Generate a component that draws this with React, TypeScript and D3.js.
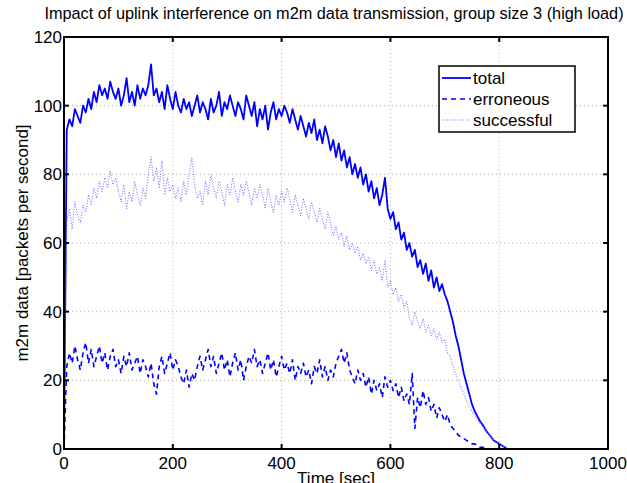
import React from "react";
import * as d3 from "d3";

const time: number[] = d3.range(0, 825, 5).concat([1000]);

const total: number[] = [
  0, 93, 96, 94, 99, 97, 95, 100, 98, 102, 99, 104, 101, 106, 103, 105, 102, 107, 104, 102,
  105, 100, 103, 108, 101, 104, 100, 106, 102, 105, 103, 106, 112, 103, 105, 101, 104, 99, 106, 102,
  99, 104, 100, 98, 102, 99, 101, 97, 100, 103, 98, 101, 99, 96, 102, 98, 100, 104, 97, 101,
  99, 103, 100, 97, 101, 99, 96, 103, 100, 97, 101, 94, 99, 96, 100, 93, 98, 101, 96, 99,
  97, 100, 98, 95, 99, 96, 93, 97, 94, 91, 95, 92, 96, 90, 93, 89, 94, 91, 87, 90,
  85, 89, 84, 87, 82, 85, 80, 83, 79, 82, 77, 80, 75, 78, 73, 76, 71, 74, 79, 70,
  67, 69, 64, 66, 61, 63, 58, 60, 56, 58, 53, 55, 51, 54, 49, 52, 47, 50, 46, 48,
  45, 43, 40, 37, 33, 30, 26, 22, 19, 16, 13, 11, 9.5, 8, 7, 5.5, 4.5, 3.5, 2.5, 2,
  1.5, 1, 0.5, 0, 0, 0,
];

const erroneous: number[] = [
  0, 24, 28, 25, 30, 26, 23, 28, 31, 25, 29, 24, 27, 30, 25, 28, 23, 27, 29, 24,
  26, 22, 27, 24, 28, 23, 25, 27, 22, 26, 24, 21, 25, 19, 16, 24, 27, 22, 25, 28,
  23, 26, 24, 21, 19, 23, 18, 22, 20, 24, 27, 23, 26, 29, 24, 27, 22, 25, 28, 23,
  26, 21, 25, 28, 23, 26, 20, 24, 27, 25, 29, 24, 26, 22, 25, 28, 23, 26, 21, 24,
  27, 23, 25, 22, 26, 20, 24, 22, 25, 21, 23, 19, 24, 22, 26, 21, 24, 20, 23, 21,
  25, 27, 29, 25, 28, 23, 21, 19, 23, 20, 22, 18, 21, 16, 20, 17, 19, 15, 21, 18,
  20, 17, 19, 15, 18, 14, 16, 13, 22, 6, 15, 12, 17, 13, 15, 11, 13, 9, 12, 10,
  8, 10, 7, 6, 5, 4, 3.5, 3, 2.5, 2, 1.5, 1.5, 1, 0.5, 0.5, 0, 0, 0, 0, 0,
  0, 0, 0, 0, 0, 0,
];

const successful: number[] = [
  0, 66, 70, 64, 72, 68, 66, 71, 69, 74, 71, 76, 73, 78, 75, 79, 76, 81, 77, 79,
  75, 72, 77, 70, 75, 72, 78, 74, 71, 76, 73, 80, 85, 78, 82, 76, 84, 74, 79, 75,
  77, 73, 76, 72, 78, 74, 80, 85, 77, 73, 75, 71, 78, 74, 80, 76, 73, 78, 75, 71,
  77, 74, 79, 75, 72, 77, 74, 78, 75, 71, 76, 73, 77, 74, 70, 76, 72, 69, 74, 71,
  75, 72, 76, 73, 69, 74, 71, 68, 73, 70, 67, 72, 69, 66, 70, 67, 64, 69, 66, 62,
  65, 61, 63, 59, 62, 58, 60, 57, 59, 55, 57, 54, 56, 52, 55, 51, 53, 49, 55, 47,
  49, 45, 47, 43, 45, 41, 43, 38, 36, 40, 37, 35, 38, 34, 36, 33, 35, 32, 34, 31,
  32, 28, 27, 24, 22, 20, 18, 16, 14, 12.5, 11, 9.5, 8.5, 7.5, 6.5, 5.5, 4.5, 3.5, 2.5, 2,
  1.5, 1, 0.5, 0, 0, 0,
];

const xTicks: number[] = [0, 200, 400, 600, 800, 1000];
const yTicks: number[] = [0, 20, 40, 60, 80, 100, 120];

const titleText = "Impact of uplink interference on m2m data transmission, group size 3 (high load)";
const xLabel = "Time [sec]";
const yLabel = "m2m data [packets per second]";
const legendLabels: string[] = ["total", "erroneous", "successful"];

const W = 627;
const H = 483;
const L = 64, R = 608, T = 37, B = 449;
const FONT = "'Liberation Sans', Arial, Helvetica, sans-serif";

export default function App() {
  const x = d3.scaleLinear().domain([0, 1000]).range([L, R]);
  const y = d3.scaleLinear().domain([0, 120]).range([B, T]);
  const line = (vals: number[]) =>
    d3.line<number>().x((_, i) => x(time[i])).y((d) => y(d))(vals) || "";

  const styles = [
    { stroke: "#0000ff", width: 1.8, dash: "none" },
    { stroke: "#0000ff", width: 1.6, dash: "5,4" },
    { stroke: "#7a7aff", width: 1.1, dash: "1,1.6" },
  ];
  const series = [total, erroneous, successful];

  const lgX = 439, lgY = 66, lgW = 136, lgH = 66;

  return (
    <div style={{ position: "absolute", left: 0, top: 0 }}>
      <svg width={W} height={H} style={{ display: "block", background: "#fff" }}>
        <defs>
          <clipPath id="plotclip">
            <rect x={L} y={T} width={R - L} height={B - T} />
          </clipPath>
        </defs>
        <rect x={0} y={0} width={W} height={H} fill="#fff" />
        {/* grid */}
        {xTicks.slice(1, -1).map((t) => (
          <line key={"gx" + t} x1={x(t)} x2={x(t)} y1={T} y2={B} stroke="#b0b0b0" strokeWidth={1} strokeDasharray="1,3" />
        ))}
        {yTicks.slice(1, -1).map((t) => (
          <line key={"gy" + t} x1={L} x2={R} y1={y(t)} y2={y(t)} stroke="#b0b0b0" strokeWidth={1} strokeDasharray="1,3" />
        ))}
        {/* series */}
        <g clipPath="url(#plotclip)">
          {series.map((s, i) => (
            <path key={"s" + i} d={line(s)} fill="none" stroke={styles[i].stroke} strokeWidth={styles[i].width}
              strokeDasharray={styles[i].dash} strokeLinejoin="round" />
          ))}
        </g>
        {/* ticks */}
        {xTicks.map((t) => (
          <g key={"tx" + t}>
            <line x1={x(t)} x2={x(t)} y1={B} y2={B - 5} stroke="#000" strokeWidth={2} />
            <line x1={x(t)} x2={x(t)} y1={T} y2={T + 5} stroke="#000" strokeWidth={2} />
            <text x={x(t)} y={469} textAnchor="middle" fontFamily={FONT} fontSize={17} fill="#000">{t}</text>
          </g>
        ))}
        {yTicks.map((t) => (
          <g key={"ty" + t}>
            <line x1={L} x2={L + 5} y1={y(t)} y2={y(t)} stroke="#000" strokeWidth={2} />
            <line x1={R} x2={R - 5} y1={y(t)} y2={y(t)} stroke="#000" strokeWidth={2} />
            <text x={62} y={y(t) + 6} textAnchor="end" fontFamily={FONT} fontSize={17} fill="#000">{t}</text>
          </g>
        ))}
        {/* box */}
        <rect x={L} y={T} width={R - L} height={B - T} fill="none" stroke="#000" strokeWidth={2} />
        {/* legend */}
        <rect x={lgX} y={lgY} width={lgW} height={lgH} fill="#fff" stroke="#000" strokeWidth={1.5} />
        {legendLabels.map((lab, i) => {
          const ly = 78 + i * 21;
          return (
            <g key={"lg" + i}>
              <line x1={442} x2={471} y1={ly} y2={ly} stroke={styles[i].stroke} strokeWidth={styles[i].width}
                strokeDasharray={styles[i].dash} />
              <text x={473} y={ly + 6} fontFamily={FONT} fontSize={17} fill="#000">{lab}</text>
            </g>
          );
        })}
        {/* labels */}
        <text x={334} y={19} textAnchor="middle" fontFamily={FONT} fontSize={16.3} fill="#000">{titleText}</text>
        <text x={336} y={484} textAnchor="middle" fontFamily={FONT} fontSize={17} fill="#000">{xLabel}</text>
        <text transform={`translate(28,${(T + B) / 2}) rotate(-90)`} textAnchor="middle" fontFamily={FONT} fontSize={17} fill="#000">{yLabel}</text>
      </svg>
    </div>
  );
}
